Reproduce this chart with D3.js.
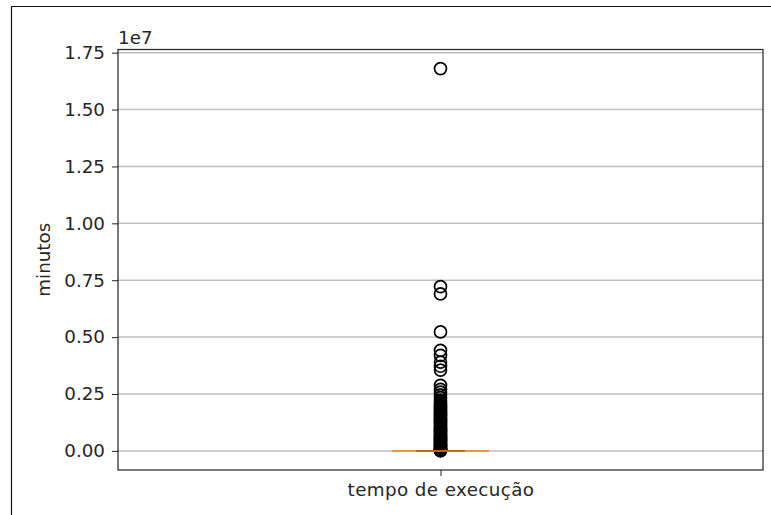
<!DOCTYPE html>
<html>
<head>
<meta charset="utf-8">
<script src="https://cdn.jsdelivr.net/npm/d3@7"></script>
<style>
  html, body { margin: 0; padding: 0; background: #fff; }
  svg { display: block; }
  text { font-family: "DejaVu Sans", sans-serif; fill: #262626; }
</style>
</head>
<body>
<svg id="chart" width="771" height="515"></svg>
<script>
// Box plot of execution time (minutes), one category
const categories = ["tempo de execução"];
const yTicks = [0, 2500000, 5000000, 7500000, 10000000, 12500000, 15000000, 17500000];
const yTickLabels = ["0.00", "0.25", "0.50", "0.75", "1.00", "1.25", "1.50", "1.75"];
const quartiles = [0, 0, 0];         // q1, median, q3
const whiskers = [0, 0];             // low, high
const outliers = [
  16800000, 7220000, 6900000, 5230000, 4420000, 4200000, 3900000,
  3720000, 3550000, 2880000, 2700000, 2580000, 2460000, 2340000,
  2230000, 2140000, 2060000, 1990000, 1930000, 1870000, 1810000,
  1750000, 1700000, 1650000, 1600000, 1550000, 1500000, 1450000,
  1400000, 1350000, 1300000, 1250000, 1200000, 1150000, 1100000,
  1050000, 1000000, 950000, 900000, 860000, 820000, 780000,
  740000, 700000, 660000, 620000, 580000, 540000, 500000,
  460000, 420000, 380000, 340000, 300000, 270000, 240000,
  210000, 180000, 150000, 120000, 100000, 80000, 60000,
  45000, 30000, 20000, 10000, 5000
];

const svg = d3.select("#chart");
const plot = { left: 118, right: 763, top: 49.5, bottom: 470 };
const fontSize = 18.3;

// outer frame of the figure
svg.append("path")
  .attr("d", `M11.5,515 V6.5 H771`)
  .attr("fill", "none").attr("stroke", "#111").attr("stroke-width", 1.2);

const dataMax = d3.max(outliers), dataMin = 0;
const pad = (dataMax - dataMin) * 0.05;
const y = d3.scaleLinear().domain([dataMin - pad, dataMax + pad]).range([plot.bottom, plot.top]);
const x = d3.scaleLinear().domain([0.5, 1.5]).range([plot.left, plot.right]);
const xPos = d3.scaleOrdinal().domain(categories).range([1]);

// horizontal grid
svg.append("g").selectAll("line").data(yTicks).join("line")
  .attr("x1", plot.left).attr("x2", plot.right)
  .attr("y1", d => y(d)).attr("y2", d => y(d))
  .attr("stroke", "#b0b0b0").attr("stroke-width", 1.5).attr("stroke-opacity", 0.8);

// y axis
const yAxis = d3.axisLeft(y).tickValues(yTicks)
  .tickFormat((d, i) => yTickLabels[i]).tickSize(6).tickPadding(7);
const gy = svg.append("g").attr("transform", `translate(${plot.left},0)`).call(yAxis);
gy.select(".domain").remove();
gy.selectAll(".tick line").attr("stroke", "#222").attr("stroke-width", 1);
gy.selectAll(".tick text").attr("font-size", fontSize).attr("font-family", "DejaVu Sans").attr("fill", "#262626");

// x axis
const xAxis = d3.axisBottom(x).tickValues(categories.map(c => xPos(c)))
  .tickFormat((d, i) => categories[i]).tickSize(6).tickPadding(7);
const gx = svg.append("g").attr("transform", `translate(0,${plot.bottom})`).call(xAxis);
gx.select(".domain").remove();
gx.selectAll(".tick line").attr("stroke", "#222").attr("stroke-width", 1);
gx.selectAll(".tick text").attr("font-size", fontSize).attr("font-family", "DejaVu Sans")
  .attr("letter-spacing", 0.4).attr("fill", "#262626");

// offset label
svg.append("text").attr("x", plot.left).attr("y", 44)
  .attr("font-size", fontSize).text("1e7");

// y label
svg.append("text")
  .attr("transform", `translate(50,${(plot.top + plot.bottom) / 2}) rotate(-90)`)
  .attr("text-anchor", "middle").attr("font-size", fontSize).text("minutos");

// box plot parts
const cx = x(xPos(categories[0]));
const boxW = x(0.5 + 0.15) - x(0.5);
const capW = boxW / 2;
const g = svg.append("g");

// box
g.append("rect")
  .attr("x", cx - boxW / 2).attr("width", boxW)
  .attr("y", y(quartiles[2])).attr("height", Math.max(0, y(quartiles[0]) - y(quartiles[2])))
  .attr("fill", "none").attr("stroke", "#000").attr("stroke-width", 1.3);
// whiskers
g.append("line").attr("x1", cx).attr("x2", cx).attr("y1", y(quartiles[2])).attr("y2", y(whiskers[1]))
  .attr("stroke", "#000").attr("stroke-width", 1.3);
g.append("line").attr("x1", cx).attr("x2", cx).attr("y1", y(quartiles[0])).attr("y2", y(whiskers[0]))
  .attr("stroke", "#000").attr("stroke-width", 1.3);
// caps
g.selectAll("line.cap").data(whiskers).join("line").attr("class", "cap")
  .attr("x1", cx - capW / 2).attr("x2", cx + capW / 2)
  .attr("y1", d => y(d)).attr("y2", d => y(d))
  .attr("stroke", "#000").attr("stroke-width", 1.3);

// outliers
g.selectAll("circle").data(outliers).join("circle")
  .attr("cx", cx).attr("cy", d => y(d)).attr("r", 6)
  .attr("fill", "none").attr("stroke", "#000").attr("stroke-width", 1.7);

// median
g.append("line")
  .attr("x1", cx - boxW / 2).attr("x2", cx + boxW / 2)
  .attr("y1", y(quartiles[1])).attr("y2", y(quartiles[1]))
  .attr("stroke", "#ff7f0e").attr("stroke-width", 1.5);

// axes frame
svg.append("rect")
  .attr("x", plot.left).attr("y", plot.top)
  .attr("width", plot.right - plot.left).attr("height", plot.bottom - plot.top)
  .attr("fill", "none").attr("stroke", "#222").attr("stroke-width", 1.2);
</script>
</body>
</html>
